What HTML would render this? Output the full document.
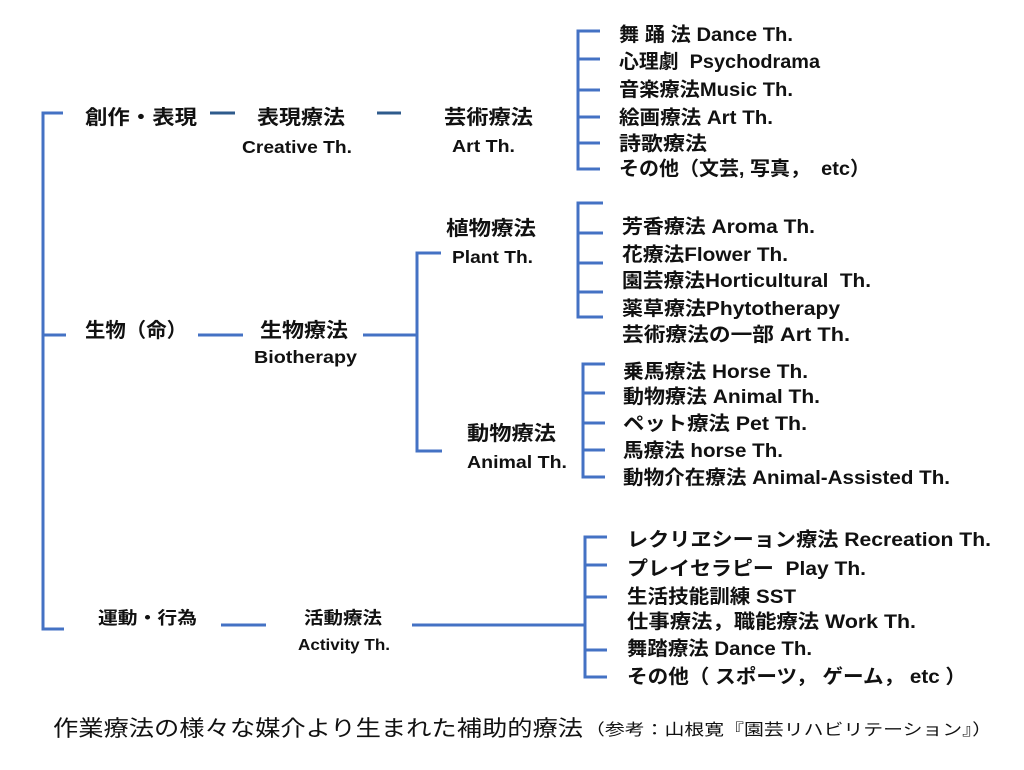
<!DOCTYPE html>
<html>
<head>
<meta charset="utf-8">
<style>
html,body{margin:0;padding:0;background:#fff;}
svg{display:block;}
text{font-family:"Liberation Sans","Noto Sans CJK JP",sans-serif;fill:#111;}
.b{font-weight:bold;}
</style>
</head>
<body>
<svg width="1024" height="770" viewBox="0 0 1024 770" xmlns="http://www.w3.org/2000/svg">
<g stroke="#4472C4" stroke-width="3" fill="none" stroke-linecap="butt">
  <polyline points="63,113 43,113 43,629 64,629"/>
  <line x1="43" y1="335" x2="66" y2="335"/>
  <line x1="198" y1="335" x2="243" y2="335"/>
  <line x1="363" y1="335" x2="418" y2="335"/>
  <polyline points="441,253 417,253 417,451 442,451"/>
  <line x1="221" y1="625" x2="266" y2="625"/>
  <line x1="412" y1="625" x2="586" y2="625"/>
  <polyline points="607,537 585,537 585,677 607,677"/>
  <line x1="585" y1="565" x2="607" y2="565"/>
  <line x1="585" y1="597" x2="607" y2="597"/>
  <line x1="585" y1="650" x2="607" y2="650"/>
  <polyline points="600,31 578,31 578,169 600,169"/>
  <line x1="578" y1="59" x2="600" y2="59"/>
  <line x1="578" y1="90" x2="600" y2="90"/>
  <line x1="578" y1="117" x2="600" y2="117"/>
  <line x1="578" y1="143" x2="600" y2="143"/>
  <polyline points="603,203 578,203 578,317 603,317"/>
  <line x1="578" y1="233" x2="603" y2="233"/>
  <line x1="578" y1="263" x2="603" y2="263"/>
  <line x1="578" y1="292" x2="603" y2="292"/>
  <polyline points="605,364 583,364 583,477 605,477"/>
  <line x1="583" y1="393" x2="605" y2="393"/>
  <line x1="583" y1="423" x2="605" y2="423"/>
  <line x1="583" y1="450" x2="605" y2="450"/>
</g>
<g stroke="#2F5B8C" stroke-width="3">
  <line x1="210" y1="113" x2="235" y2="113"/>
  <line x1="377" y1="113" x2="401" y2="113"/>
</g>

<g class="b" font-size="20">
  <text x="85" y="124" textLength="112" lengthAdjust="spacingAndGlyphs">創作・表現</text>
  <text x="257" y="124" textLength="88" lengthAdjust="spacingAndGlyphs">表現療法</text>
  <text x="444" y="124" textLength="89" lengthAdjust="spacingAndGlyphs">芸術療法</text>
  <text x="85" y="337" textLength="102" lengthAdjust="spacingAndGlyphs">生物（命）</text>
  <text x="260" y="337" textLength="88" lengthAdjust="spacingAndGlyphs">生物療法</text>
  <text x="446" y="235" textLength="90" lengthAdjust="spacingAndGlyphs">植物療法</text>
  <text x="467" y="440" textLength="89" lengthAdjust="spacingAndGlyphs">動物療法</text>
</g>
<g class="b" font-size="17.5">
  <text x="242" y="153" textLength="110" lengthAdjust="spacingAndGlyphs">Creative Th.</text>
  <text x="452" y="152" textLength="63" lengthAdjust="spacingAndGlyphs">Art Th.</text>
  <text x="254" y="363" textLength="103" lengthAdjust="spacingAndGlyphs">Biotherapy</text>
  <text x="452" y="263" textLength="81" lengthAdjust="spacingAndGlyphs">Plant Th.</text>
  <text x="467" y="468" textLength="100" lengthAdjust="spacingAndGlyphs">Animal Th.</text>
</g>
<g class="b" font-size="17.5">
  <text x="98" y="624" textLength="99" lengthAdjust="spacingAndGlyphs">運動・行為</text>
  <text x="304" y="624" textLength="78" lengthAdjust="spacingAndGlyphs">活動療法</text>
</g>
<g class="b" font-size="16">
  <text x="298" y="650" textLength="92" lengthAdjust="spacingAndGlyphs">Activity Th.</text>
</g>

<g class="b" font-size="19.5">
  <text x="619" y="41" textLength="174" lengthAdjust="spacingAndGlyphs">舞 踊 法 Dance Th.</text>
  <text x="619" y="68" textLength="201" lengthAdjust="spacingAndGlyphs" xml:space="preserve">心理劇  Psychodrama</text>
  <text x="619" y="96" textLength="174" lengthAdjust="spacingAndGlyphs">音楽療法Music Th.</text>
  <text x="619" y="124" textLength="154" lengthAdjust="spacingAndGlyphs">絵画療法 Art Th.</text>
  <text x="619" y="150" textLength="88" lengthAdjust="spacingAndGlyphs">詩歌療法</text>
  <text x="619" y="175" textLength="251" lengthAdjust="spacingAndGlyphs" xml:space="preserve">その他（文芸, 写真，  etc）</text>

  <text x="622" y="233" textLength="193" lengthAdjust="spacingAndGlyphs">芳香療法 Aroma Th.</text>
  <text x="622" y="261" textLength="166" lengthAdjust="spacingAndGlyphs">花療法Flower Th.</text>
  <text x="622" y="287" textLength="249" lengthAdjust="spacingAndGlyphs" xml:space="preserve">園芸療法Horticultural  Th.</text>
  <text x="622" y="315" textLength="218" lengthAdjust="spacingAndGlyphs">薬草療法Phytotherapy</text>
  <text x="622" y="341" textLength="228" lengthAdjust="spacingAndGlyphs">芸術療法の一部 Art Th.</text>

  <text x="623" y="378" textLength="185" lengthAdjust="spacingAndGlyphs">乗馬療法 Horse Th.</text>
  <text x="623" y="403" textLength="197" lengthAdjust="spacingAndGlyphs">動物療法 Animal Th.</text>
  <text x="623" y="430" textLength="184" lengthAdjust="spacingAndGlyphs">ペット療法 Pet Th.</text>
  <text x="623" y="457" textLength="160" lengthAdjust="spacingAndGlyphs">馬療法 horse Th.</text>
  <text x="623" y="484" textLength="327" lengthAdjust="spacingAndGlyphs">動物介在療法 Animal-Assisted Th.</text>

  <text x="627" y="546" textLength="364" lengthAdjust="spacingAndGlyphs">レクリヱシーョン療法 Recreation Th.</text>
  <text x="627" y="575" textLength="239" lengthAdjust="spacingAndGlyphs" xml:space="preserve">プレイセラピー  Play Th.</text>
  <text x="627" y="603" textLength="169" lengthAdjust="spacingAndGlyphs">生活技能訓練 SST</text>
  <text x="627" y="628" textLength="289" lengthAdjust="spacingAndGlyphs">仕事療法，職能療法 Work Th.</text>
  <text x="627" y="655" textLength="185" lengthAdjust="spacingAndGlyphs">舞踏療法 Dance Th.</text>
  <text x="627" y="683" textLength="339" lengthAdjust="spacingAndGlyphs">その他（ スポーツ， ゲーム， etc ）</text>
</g>

<text x="53" y="736" font-size="22" textLength="530" lengthAdjust="spacingAndGlyphs">作業療法の様々な媒介より生まれた補助的療法</text>
<text x="585" y="735" font-size="16" textLength="407" lengthAdjust="spacingAndGlyphs">（参考：山根寛『園芸リハビリテーション』）</text>
</svg>
</body>
</html>
